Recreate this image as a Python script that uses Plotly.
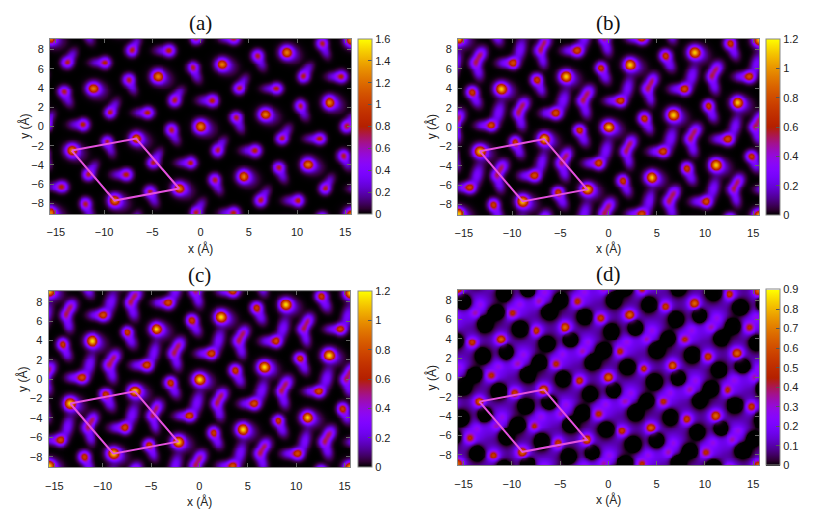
import numpy as np
import plotly.graph_objects as go

# lattice vectors of the surface cell (Angstrom), read from the magenta cell
A1 = (6.68, 1.25)
A2 = (4.45, -5.2)
CELL_ORIGIN = (-13.36, -2.5)

X_RANGE = (-15.6, 15.6)
Y_RANGE = (-9.1, 9.1)
X_TICKS = [-15, -10, -5, 0, 5, 10, 15]
Y_TICKS = [-8, -6, -4, -2, 0, 2, 4, 6, 8]

# blobs per panel: (u, v, dx, dy, amp, s1, s2, angle)
# u, v = fractional cell coords of the spot, dx, dy = offset in Angstrom
BLOBS_A = [
    (0.0, 0.0, 0.0, 0.0, 1.05, 0.40, 0.40, 0),
    (0.0, 0.0, 0.40, -0.15, 0.25, 0.70, 0.55, -20),
    (0.577, -0.04, 0.0, 0.0, 0.72, 0.37, 0.37, 0),
    (0.577, -0.04, 0.35, -0.85, 0.26, 0.50, 0.32, -65),
    (-0.05, 0.47, 0.0, 0.0, 0.72, 0.37, 0.37, 0),
    (-0.05, 0.47, 0.45, 0.75, 0.26, 0.50, 0.32, 58),
    (0.456, 0.593, 0.0, 0.0, 0.72, 0.37, 0.37, 0),
    (0.456, 0.593, -0.80, 0.0, 0.26, 0.55, 0.32, 0),
]
BLOBS_B = [
    (0.0, 0.0, 0.0, 0.0, 0.92, 0.40, 0.40, 0),
    (0.0, 0.0, 0.40, -0.15, 0.22, 0.70, 0.55, -20),
    (0.577, -0.04, 0.0, 0.0, 0.68, 0.37, 0.37, 0),
    (0.577, -0.04, 0.40, -0.90, 0.26, 0.52, 0.34, -65),
    (-0.05, 0.47, 0.0, 0.0, 0.40, 0.38, 0.38, 0),
    (-0.05, 0.47, 0.40, 0.65, 0.26, 0.45, 0.33, 58),
    (-0.05, 0.47, 0.30, -0.95, 0.26, 0.55, 0.33, -75),
    (0.13, 0.33, 0.0, 0.0, 0.28, 0.48, 0.40, 60),
    (0.456, 0.593, 0.0, 0.0, 0.68, 0.37, 0.37, 0),
    (0.456, 0.593, -0.85, 0.0, 0.26, 0.55, 0.33, 0),
    (0.66, 0.45, 0.0, 0.30, 0.28, 0.78, 0.38, 75),
]
BLOBS_C = [
    (0.0, 0.0, 0.0, 0.0, 0.95, 0.40, 0.40, 0),
    (0.0, 0.0, 0.40, -0.15, 0.22, 0.70, 0.55, -20),
    (0.577, -0.04, 0.0, 0.0, 0.68, 0.37, 0.37, 0),
    (0.577, -0.04, 0.40, -0.90, 0.26, 0.52, 0.34, -65),
    (-0.05, 0.47, 0.0, 0.0, 0.40, 0.38, 0.38, 0),
    (-0.05, 0.47, 0.40, 0.65, 0.26, 0.45, 0.33, 58),
    (-0.05, 0.47, 0.30, -0.95, 0.26, 0.55, 0.33, -75),
    (0.13, 0.33, 0.0, 0.0, 0.28, 0.48, 0.40, 60),
    (0.456, 0.593, 0.0, 0.0, 0.68, 0.37, 0.37, 0),
    (0.456, 0.593, -0.85, 0.0, 0.26, 0.55, 0.33, 0),
    (0.66, 0.45, 0.0, 0.30, 0.28, 0.78, 0.38, 75),
]
BLOBS_D = [
    (0.0, 0.0, 0.0, 0.0, 0.50, 0.36, 0.36, 0),
    (0.577, -0.04, 0.0, 0.0, 0.38, 0.34, 0.34, 0),
    (-0.05, 0.47, 0.0, 0.0, 0.16, 0.32, 0.32, 0),
    (0.13, 0.33, 0.0, 0.0, 0.10, 0.30, 0.30, 0),
    (0.456, 0.593, 0.0, 0.0, 0.30, 0.34, 0.34, 0),
    (0.66, 0.45, 0.0, 0.0, 0.10, 0.30, 0.30, 0),
]
# purple network under panel (d): broad blobs around the spots
NET_D = [
    (0.0, 0.0, 0.0, 0.0, 0.30, 0.85, 0.85, 0),
    (0.577, -0.04, 0.0, 0.0, 0.30, 0.85, 0.85, 0),
    (-0.05, 0.47, 0.0, 0.0, 0.30, 0.85, 0.85, 0),
    (0.13, 0.33, 0.0, 0.0, 0.30, 0.85, 0.85, 0),
    (0.456, 0.593, 0.0, 0.0, 0.30, 0.85, 0.85, 0),
    (0.66, 0.45, 0.0, 0.0, 0.30, 0.85, 0.85, 0),
]
# dark holes of the network in panel (d)
HOLES_D = [
    (0.96, 0.69, 0.0, 0.0, 3.5, 0.52, 0.52, 0),
    (0.57, 0.22, 0.0, 0.0, 3.5, 0.52, 0.52, 0),
    (0.93, 0.23, 0.0, 0.0, 3.5, 0.48, 0.48, 0),
    (0.38, 0.88, 0.0, 0.0, 3.5, 0.52, 0.52, 0),
    (0.25, 0.52, 0.0, 0.0, 3.5, 0.50, 0.50, 0),
]
NET_LEVEL_D = 0.22

PANELS = ["(a)", "(b)", "(c)", "(d)"]
CB_MAX = [1.6, 1.2, 1.2, 0.9]
CB_DTICK = [0.2, 0.2, 0.2, 0.1]
ALL_BLOBS = [BLOBS_A, BLOBS_B, BLOBS_C, BLOBS_D]
ALL_NETS = [None, None, None, (NET_D, HOLES_D, NET_LEVEL_D)]

W, H = 817, 524
# plot areas in pixels: left, right, top, bottom
BOXES = [(38.3, 340.7, 31, 206), (448.3, 750.7, 31, 207),
         (36.7, 340.0, 283.3, 459.3), (448.0, 750.7, 281.7, 457.3)]


def gnuplot_scale(n=33):
    # gnuplot default pm3d palette, rgbformulae 7,5,15
    out = []
    for i in range(n):
        t = i / (n - 1)
        r = np.sqrt(t)
        g = t ** 3
        b = max(0.0, np.sin(2 * np.pi * t))
        out.append([t, "rgb(%d,%d,%d)" % (round(r * 255), round(g * 255), round(b * 255))])
    return out


def field(blobs, xs, ys):
    X, Y = np.meshgrid(xs, ys)
    Z = np.zeros_like(X)
    for (u, v, dx, dy, amp, s1, s2, ang) in blobs:
        cx0 = u * A1[0] + v * A2[0] + dx
        cy0 = u * A1[1] + v * A2[1] + dy
        c, s = np.cos(np.radians(ang)), np.sin(np.radians(ang))
        for n1 in range(-6, 7):
            for n2 in range(-6, 7):
                cx = cx0 + n1 * A1[0] + n2 * A2[0]
                cy = cy0 + n1 * A1[1] + n2 * A2[1]
                if abs(cx) > 19 or abs(cy) > 12:
                    continue
                ddx, ddy = X - cx, Y - cy
                p = ddx * c + ddy * s
                q = -ddx * s + ddy * c
                Z += amp * np.exp(-(p ** 2 / (2 * s1 ** 2) + q ** 2 / (2 * s2 ** 2)))
    return Z


xs = np.arange(X_RANGE[0], X_RANGE[1] + 0.001, 0.1)
ys = np.arange(Y_RANGE[0], Y_RANGE[1] + 0.001, 0.1)

cell_x = [CELL_ORIGIN[0], CELL_ORIGIN[0] + A1[0], CELL_ORIGIN[0] + A1[0] + A2[0],
          CELL_ORIGIN[0] + A2[0], CELL_ORIGIN[0]]
cell_y = [CELL_ORIGIN[1], CELL_ORIGIN[1] + A1[1], CELL_ORIGIN[1] + A1[1] + A2[1],
          CELL_ORIGIN[1] + A2[1], CELL_ORIGIN[1]]

fig = go.Figure()
cscale = gnuplot_scale()
annotations = []
tick_font = dict(family="Liberation Sans, Arial, sans-serif", size=11, color="#222")

for i, name in enumerate(PANELS):
    l, r, t, b = BOXES[i]
    sfx = "" if i == 0 else str(i + 1)
    Z = field(ALL_BLOBS[i], xs, ys)
    if ALL_NETS[i] is not None:
        net, holes, level = ALL_NETS[i]
        # even network level, cut by soft dark holes
        P = level * (1 - np.exp(-field(net, xs, ys) / level))
        M = np.clip(1 - field(holes, xs, ys), 0, 1)
        Z = Z + P * M
    Z = np.clip(Z, 0, CB_MAX[i])
    fig.add_trace(go.Heatmap(
        x=xs, y=ys, z=np.round(Z, 3), colorscale=cscale, zmin=0, zmax=CB_MAX[i],
        xaxis="x" + sfx, yaxis="y" + sfx, hoverinfo="skip",
        colorbar=dict(x=(r + 7.5) / W, xanchor="left", xref="paper",
                      y=1 - (t + b) / 2 / H, yanchor="middle",
                      len=(b - t) / H, lenmode="fraction", thickness=14,
                      outlinecolor="#888", outlinewidth=1, dtick=CB_DTICK[i],
                      tick0=0, ticks="inside", ticklen=4, tickcolor="#555",
                      tickfont=tick_font, xpad=0, ypad=0)))
    fig.add_trace(go.Scatter(x=cell_x, y=cell_y, mode="lines",
                             line=dict(color="rgb(228,80,222)", width=2),
                             xaxis="x" + sfx, yaxis="y" + sfx,
                             showlegend=False, hoverinfo="skip"))
    ax = dict(domain=[l / W, r / W], range=list(X_RANGE), tickvals=X_TICKS,
              showline=True, linecolor="#888", linewidth=1, mirror="ticks",
              ticks="inside", ticklen=4, tickcolor="#666", tickfont=tick_font,
              ticklabelstandoff=8, showgrid=False, zeroline=False,
              anchor="y" + sfx)
    ay = dict(domain=[1 - b / H, 1 - t / H], range=list(Y_RANGE), tickvals=Y_TICKS,
              showline=True, linecolor="#888", linewidth=1, mirror="ticks",
              ticks="inside", ticklen=4, tickcolor="#666", tickfont=tick_font,
              ticklabelstandoff=3, showgrid=False, zeroline=False,
              anchor="x" + sfx)
    fig.update_layout(**{"xaxis" + sfx: ax, "yaxis" + sfx: ay})
    cx = (l + r) / 2 / W
    annotations.append(dict(text=name, x=cx, y=1 - (t - 16) / H, xref="paper", yref="paper",
                            showarrow=False, xanchor="center", yanchor="middle",
                            font=dict(family="Liberation Serif, serif", size=21, color="#111")))
    annotations.append(dict(text="x (Å)", x=cx, y=1 - (b + 34) / H, xref="paper", yref="paper",
                            showarrow=False, xanchor="center", yanchor="middle",
                            font=dict(family="Liberation Sans, Arial, sans-serif", size=12, color="#222")))
    annotations.append(dict(text="y (Å)", x=(l - 26) / W, y=1 - (t + b) / 2 / H,
                            xref="paper", yref="paper", textangle=-90,
                            showarrow=False, xanchor="center", yanchor="middle",
                            font=dict(family="Liberation Sans, Arial, sans-serif", size=12, color="#222")))

fig.update_layout(width=W, height=H, margin=dict(l=0, r=0, t=0, b=0),
                  paper_bgcolor="white", plot_bgcolor="black",
                  showlegend=False, annotations=annotations)

fig.write_html("out.html")
